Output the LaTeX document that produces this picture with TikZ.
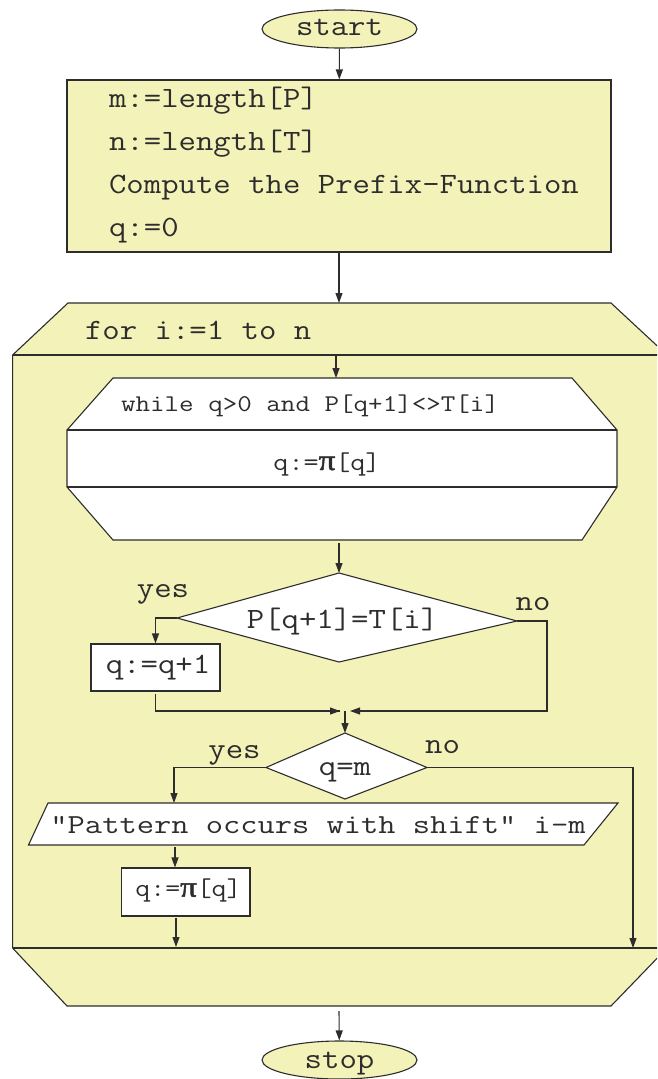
\documentclass[tikz,border=0pt]{standalone}
\usepackage{fontspec}
\newfontfamily\pifont[FakeBold=1.5]{Liberation Serif}
\usetikzlibrary{arrows.meta,shapes.geometric}
\definecolor{fillY}{RGB}{243,242,184}
\definecolor{ink}{RGB}{45,45,45}
\newcommand{\mw}[2]{\resizebox{\dimexpr 17.4pt*#1\relax}{\height}{#2}}
\newcommand{\fw}[2]{\resizebox{#1}{\height}{#2}}
\tikzset{
  txt/.style={text=ink, inner sep=0pt, font=\ttfamily\fontsize{29.5}{31}\selectfont},
  smalltxt/.style={text=ink, inner sep=0pt, font=\ttfamily\fontsize{24}{26}\selectfont},
  pitxtstyle/.style={text=ink, inner sep=0pt, font=\ttfamily\fontsize{25.5}{27}\selectfont},
  arr/.style={draw=ink, -{Triangle[length=10pt,width=7pt]}},
  ln/.style={draw=ink},
  term/.style={ellipse, draw=ink, fill=fillY, minimum width=155pt, minimum height=38pt, inner sep=0pt, text=ink, font=\ttfamily\fontsize{29.5}{31}\selectfont},
  procbox/.style={rectangle, draw=ink, fill=white, inner sep=0pt},
  shapeW/.style={draw=ink, fill=white, line join=miter},
  shapeY/.style={draw=ink, fill=fillY, line join=miter}
}
\newcommand{\mypi}{{\pifont\fontsize{29}{30}\selectfont π}}
\begin{document}
\begin{tikzpicture}[x=1pt,y=-1pt, line width=1.1pt]
\useasboundingbox (0,0) rectangle (657,1079);
\clip (0,0) rectangle (657,1079);

% start
\node[term, text height=15pt, text depth=3pt] (start) at (339.5,29) {\mw{5}{start}};

% initialisation box
\node[rectangle, draw=ink, fill=fillY, minimum width=544pt, minimum height=172pt, inner sep=0pt] (init) at (339,166) {};
\node[txt, anchor=base west] (l1) at (108.5,107) {\mw{12}{m:=length[P]}};
\node[txt, anchor=base west] (l2) at (108.5,150) {\mw{12}{n:=length[T]}};
\node[txt, anchor=base west] (l3) at (108.5,193) {\mw{27}{Compute the Prefix-Function}};
\node[txt, anchor=base west] (l4) at (108.5,236.5) {\mw{4}{q:=0}};

% for loop shape
\coordinate (forTop) at (339,303);
\coordinate (forFoot) at (339,948);
\coordinate (forBot) at (339,1006);
\coordinate (forBotOut) at (339,1011);
\path[shapeY] (68,303) -- (611,303) -- (667,355) -- (667,948) -- (611,1006) -- (67,1006) -- (12.6,948) -- (12.6,355) -- cycle;
\draw[ln] (12.6,355) -- (667,355);
\draw[ln] (12.6,948) -- (667,948);
\node[txt, anchor=base west] (fortxt) at (84.5,339) {\mw{13}{for i:=1 to n}};
\coordinate (forHead) at (336,355);

% while shape
\coordinate (whTop) at (336,378);
\coordinate (whBot) at (339,543);
\path[shapeW] (113,378) -- (572,378) -- (617,430) -- (617,487) -- (582,540) -- (113,540) -- (67,487) -- (67,430) -- cycle;
\draw[ln] (67,430) -- (617,430);
\draw[ln] (67,487) -- (617,487);
\node[smalltxt, anchor=base west] (whtxt) at (120.5,411.5) {\fw{378pt}{while q>0 and P[q+1]<>T[i]}};
\node[pitxtstyle, anchor=base] (pitxt) at (327,470) {\fw{107pt}{q:=\mypi[q]}};

% first decision
\coordinate (d1t) at (339,573);
\coordinate (d1l) at (177,618);
\coordinate (d1r) at (517,621);
\coordinate (d1b) at (339,662);
\path[shapeW] (d1t) -- (d1r) -- (d1b) -- (d1l) -- cycle;
\node[txt, anchor=base] (d1txt) at (342.5,628) {\mw{11}{P[q+1]=T[i]}};
\node[txt, anchor=base] (yes1) at (163,597) {\mw{3}{yes}};
\node[txt, anchor=base] (no1) at (533,610) {\mw{2}{no}};

\node[procbox, minimum width=129pt, minimum height=47pt] (inc) at (155.5,667.5) {};
\node[txt, anchor=base] (inctxt) at (158,673) {\mw{6}{q:=q+1}};
\coordinate (incOut) at (155.5,694);

% join
\coordinate (jl) at (340,711);
\coordinate (jr) at (350,711);
\coordinate (jtop) at (345,711);

% second decision
\coordinate (d2t) at (345,733);
\coordinate (d2l) at (266,767.5);
\coordinate (d2r) at (427,767.5);
\coordinate (d2b) at (345,799);
\path[shapeW] (d2t) -- (d2r) -- (d2b) -- (d2l) -- cycle;
\node[txt, anchor=base] (d2txt) at (345,775) {\mw{3}{q=m}};
\node[txt, anchor=base] (yes2) at (234.5,758) {\mw{3}{yes}};
\node[txt, anchor=base] (no2) at (442.5,753) {\mw{2}{no}};

% output parallelogram
\coordinate (pTop) at (174,803);
\coordinate (pBot) at (175,847);
\path[shapeW] (48,803) -- (618,803) -- (584,845) -- (28.5,845) -- cycle;
\node[txt, anchor=base, font=\ttfamily\fontsize{27.5}{29}\selectfont] (ptxt) at (318,833) {\fw{535pt}{"Pattern occurs with shift" i-m}};

% q:=pi[q] box
\node[procbox, minimum width=128.5pt, minimum height=48pt] (reset) at (185.75,892) {};
\node[pitxtstyle, anchor=base] (resettxt) at (188.5,896.7) {\fw{106pt}{q:=\mypi[q]}};
\coordinate (resetOut) at (176,918);
\coordinate (resetEnd) at (176,947);

\coordinate (noEnd) at (633,948);

% stop
\node[term, text height=16pt, text depth=0pt] (stop) at (339.5,1060) {\mw{4}{stop}};

% connectors
\draw[arr] (start) -- (init);
\draw[arr] (init.south) -- (forTop);
\draw[arr] (forHead) -- (whTop);
\draw[arr] (whBot) -- (d1t);
\draw[arr] (d1l) -| (inc.north);
\draw[ln] (incOut) |- (jl);
\draw[arr] (incOut |- jl) -- (jl);
\draw[arr] (d1r) -- (547,621) |- (jr);
\draw[arr] (jtop) -- (d2t);
\draw[arr] (d2l) -| (pTop);
\draw[arr] (pBot) -- (pBot |- reset.north);
\draw[arr] (resetOut) -- (resetEnd);
\draw[arr] (d2r) -| (noEnd);
\draw[arr] (forBotOut) -- (stop);
\end{tikzpicture}
\end{document}
